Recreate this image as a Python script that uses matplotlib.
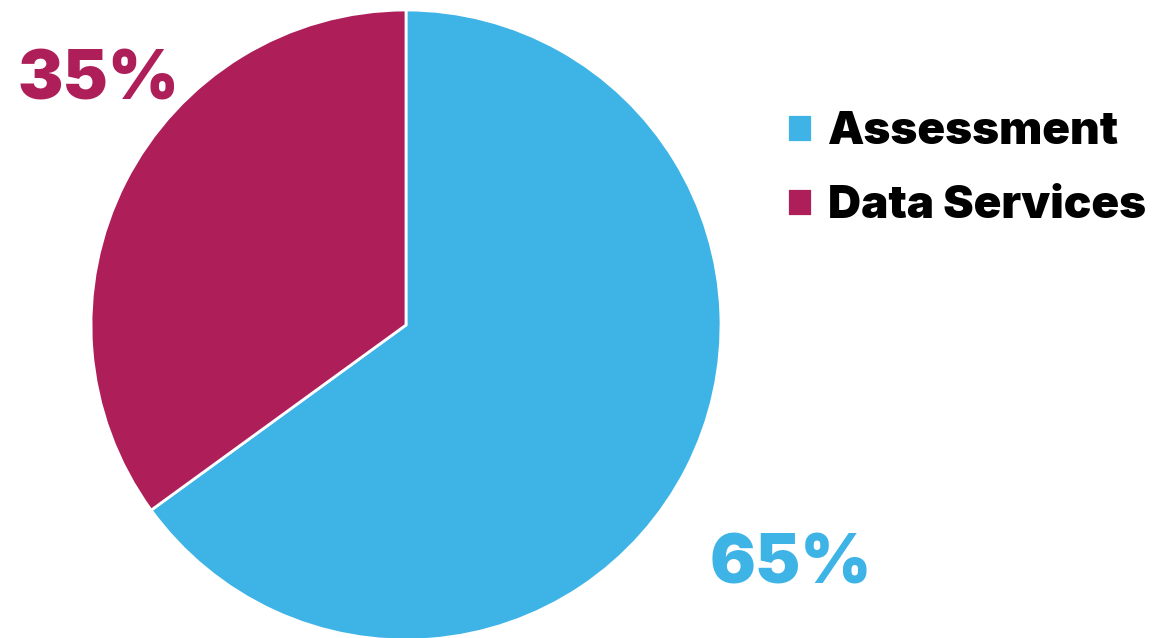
import matplotlib.pyplot as plt
import matplotlib.patheffects as pe

labels = ['Assessment', 'Data Services']
shares = [65, 35]
colors = ['#3db3e6', '#ae1f59']

plt.rcParams['font.family'] = ['Inter', 'DejaVu Sans']

W, H = 1172, 638
fig = plt.figure(figsize=(W / 100, H / 100), dpi=100)
# pie centre at (406, 325) px from the top-left, radius 315 px
ax = fig.add_axes([(406 - 315) / W, (H - 325 - 315) / H, 630 / W, 630 / H])

wedges, _ = ax.pie(
    shares, colors=colors, startangle=90, counterclock=False, radius=1.0,
    wedgeprops=dict(edgecolor='white', linewidth=2),
)
for w in wedges:
    w.set_path_effects([pe.SimplePatchShadow(offset=(0, 0), shadow_rgbFace='#000000', alpha=0.08),
                        pe.Normal()])
ax.set_xlim(-1, 1)
ax.set_ylim(-1, 1)
ax.set_aspect('equal')
ax.axis('off')

# percentage callouts
fig.text(17 / W, 1 - 100 / H, f'{shares[1]}%', color=colors[1],
         fontsize=49, fontweight=900, ha='left', va='baseline')
fig.text(710 / W, 1 - 583 / H, f'{shares[0]}%', color=colors[0],
         fontsize=49, fontweight=900, ha='left', va='baseline')

fig.legend(wedges, labels, loc='upper left', bbox_to_anchor=(787 / W, 1 - 111 / H),
           frameon=False, prop=dict(weight=900, size=33), borderpad=0, borderaxespad=0,
           handlelength=0.55, handleheight=0.55, handletextpad=0.35, labelspacing=0.7)

fig.savefig('out.png', dpi=100, facecolor='white')
